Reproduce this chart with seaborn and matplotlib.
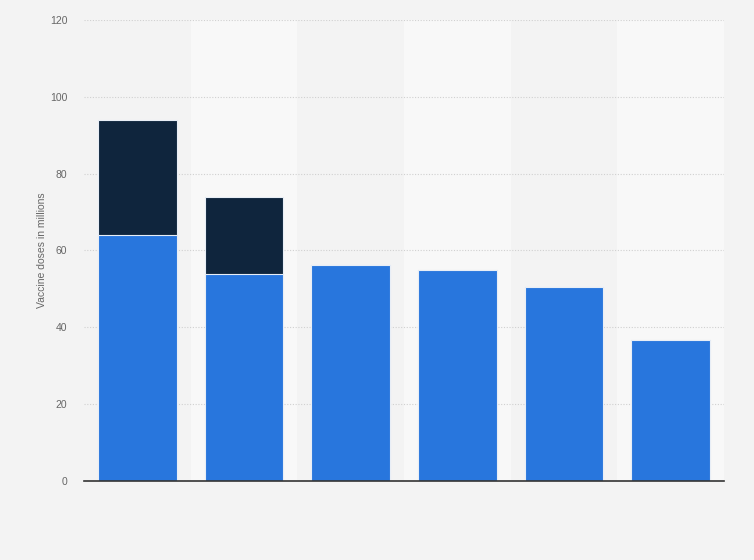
import numpy as np
import pandas as pd
import matplotlib
matplotlib.use("Agg")
import matplotlib.pyplot as plt
import seaborn as sns

# Data (vaccine doses in millions)
categories = ["A", "B", "C", "D", "E", "F"]
first_part = [64.0, 54.0, 56.1, 54.9, 50.4, 36.6]
second_part = [30.0, 20.0, 0.0, 0.0, 0.0, 0.0]

df = pd.DataFrame({
    "category": categories,
    "first": first_part,
    "second": second_part,
})
df["total"] = df["first"] + df["second"]

sns.set_style("white")
plt.rcParams["font.family"] = ["Liberation Sans", "DejaVu Sans"]

fig = plt.figure(figsize=(7.54, 5.6), dpi=100)
fig.patch.set_facecolor("#f3f3f3")
ax = fig.add_axes([0.1114, 0.1411, 0.8488, 0.8232])
ax.set_facecolor("#f3f3f3")

# alternating column bands
for i in range(len(categories)):
    if i % 2 == 1:
        ax.axvspan(i - 0.5, i + 0.5, color="#f8f8f8", zorder=0, lw=0)

sns.barplot(data=df, x="category", y="total", color="#0f253d", width=0.74,
            edgecolor="#e8eef6", linewidth=0.8, saturation=1, ax=ax, zorder=3)
sns.barplot(data=df, x="category", y="first", color="#2876dd", width=0.74,
            edgecolor="#e8eef6", linewidth=0.8, saturation=1, ax=ax, zorder=4)

ax.set_xlim(-0.5, len(categories) - 0.5)
ax.set_ylim(0, 120)
ax.set_yticks(np.arange(0, 121, 20))
ax.yaxis.grid(True, linestyle=(0, (1, 1.5)), color="#d0d0d0", linewidth=0.8)
ax.set_axisbelow(True)
for s in ["top", "right", "left"]:
    ax.spines[s].set_visible(False)
ax.spines["bottom"].set_color("#333333")
ax.spines["bottom"].set_linewidth(1.2)
ax.spines["bottom"].set_zorder(5)

ax.set_xticklabels([])
ax.tick_params(axis="x", length=0)
ax.tick_params(axis="y", length=0, labelsize=7.5, labelcolor="#666666", pad=12)
ax.set_xlabel("")
ax.set_ylabel("Vaccine doses in millions", fontsize=7.5, color="#666666", labelpad=2)

fig.savefig("out.png", dpi=100, facecolor=fig.get_facecolor())
